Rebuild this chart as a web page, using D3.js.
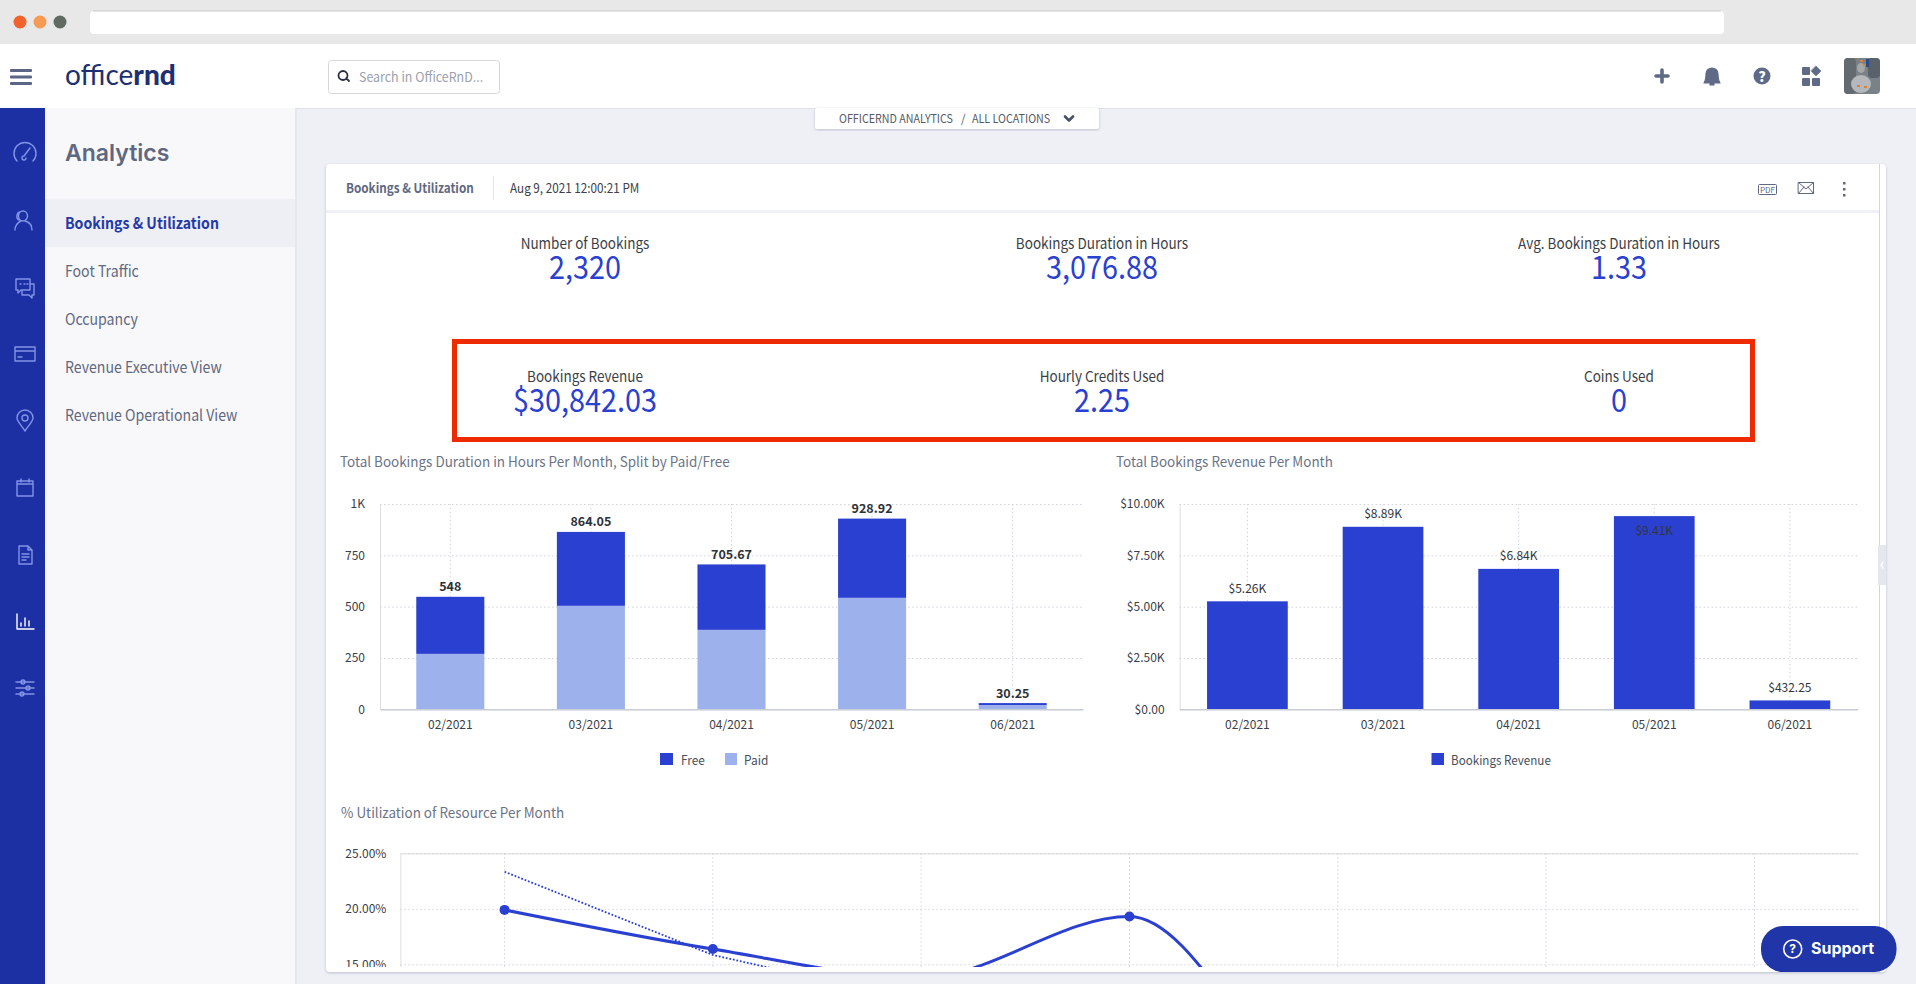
<!DOCTYPE html>
<html>
<head>
<meta charset="utf-8">
<title>Bookings & Utilization</title>
<script src="https://cdn.jsdelivr.net/npm/d3@7"></script>
<style>
  html, body { margin: 0; padding: 0; background: #eff0f6; overflow: hidden; }
  svg { display: block; }
  text { font-family: "Noto Sans CJK JP", "Noto Sans", sans-serif; }
</style>
</head>
<body>
<svg id="page" width="1916" height="984" viewBox="0 0 1916 984"></svg>
<script>
// Data
const months = ['02/2021', '03/2021', '04/2021', '05/2021', '06/2021'];
const freeHours = [278, 360.05, 318.67, 385.92, 9.25];
const paidHours = [270, 504, 387, 543, 21];
const totalLabels = ['548', '864.05', '705.67', '928.92', '30.25'];
const hoursTicks = [0, 250, 500, 750, 1000];
const hoursTickLabels = ['0', '250', '500', '750', '1K'];

const revenue = [5260, 8890, 6840, 9410, 432.25];
const revenueLabels = ['$5.26K', '$8.89K', '$6.84K', '$9.41K', '$432.25'];
const revenueTicks = [0, 2500, 5000, 7500, 10000];
const revenueTickLabels = ['$0.00', '$2.50K', '$5.00K', '$7.50K', '$10.00K'];

const resources = [1, 2, 3, 4, 5, 6, 7];
// The chart is cut off by the card below 15%, the low values are estimates
const utilization = [19.9, 16.38, 13.8, 19.3, 2.2, 1.5];
const utilizationTrend = [23.34, 15.84, 11.6];
const utilizationTicks = [15, 20, 25];
const utilizationTickLabels = ['15.00%', '20.00%', '25.00%'];

const kpiRows = [
  [['Number of Bookings', '2,320'], ['Bookings Duration in Hours', '3,076.88'], ['Avg. Bookings Duration in Hours', '1.33']],
  [['Bookings Revenue', '$30,842.03'], ['Hourly Credits Used', '2.25'], ['Coins Used', '0']]
];
const menuItems = ['Bookings & Utilization', 'Foot Traffic', 'Occupancy', 'Revenue Executive View', 'Revenue Operational View'];

const BLUE = '#2a40d0';
const LIGHT = '#9db2ec';
const NAVY = '#1c2fa3';
const SLATE = '#5f6880';

const svg = d3.select('#page');

// opts.squeeze narrows the glyphs, the dashboard font is a bit more condensed than ours
function addText(parent, x, y, str, size, fill, opts = {}) {
  const el = parent.append('text')
    .attr('x', x).attr('y', y - size * 0.07)
    .attr('dominant-baseline', 'central')
    .attr('text-anchor', opts.anchor || 'start')
    .attr('font-size', size)
    .attr('font-weight', opts.weight || 400)
    .attr('fill', fill)
    .text(str);
  if (opts.family) el.style('font-family', opts.family);
  if (opts.squeeze) {
    el.attr('textLength', el.node().getComputedTextLength() * opts.squeeze).attr('lengthAdjust', 'spacingAndGlyphs');
  }
  return el;
}

function addRect(parent, x, y, w, h, fill, r = 0) {
  return parent.append('rect').attr('x', x).attr('y', y).attr('width', w).attr('height', h).attr('rx', r).attr('fill', fill);
}

// Icon drawn with stroked paths, centred on cx, cy
function addIcon(parent, cx, cy, d, stroke, fill = 'none', width = 1.4) {
  return parent.append('path')
    .attr('transform', `translate(${cx},${cy})`)
    .attr('d', d)
    .attr('fill', fill)
    .attr('stroke', stroke)
    .attr('stroke-width', width)
    .attr('stroke-linecap', 'round')
    .attr('stroke-linejoin', 'round');
}

// Browser window chrome
function drawBrowser() {
  addRect(svg, 0, 0, 1916, 44, '#e8e8e8');
  [[20, '#f2622c'], [40, '#f89a52'], [60, '#5f6b60']].forEach(([x, c]) => {
    svg.append('circle').attr('cx', x).attr('cy', 22).attr('r', 6.5).attr('fill', c);
  });
  addRect(svg, 90, 11, 1634, 23, '#ffffff', 4);
  svg.append('line').attr('x1', 93).attr('x2', 1721).attr('y1', 11).attr('y2', 11).attr('stroke', '#c8c8c8');
}

function drawHeader() {
  addRect(svg, 0, 44, 1916, 64, '#ffffff');
  addRect(svg, 0, 108, 1916, 1, '#dcdfe6');
  [69, 75.5, 82].forEach(y => addRect(svg, 10, y, 22, 3, '#5a6684', 1));

  const logo = svg.append('text').attr('x', 65).attr('y', 74).attr('dominant-baseline', 'central')
    .attr('font-size', 28).attr('fill', '#1e2f72').style('font-family', 'Lato');
  logo.append('tspan').attr('font-weight', 400).text('office');
  logo.append('tspan').attr('font-weight', 900).text('rnd');

  addRect(svg, 328.5, 60.5, 171, 33, '#ffffff', 3).attr('stroke', '#d5d8e0');
  addIcon(svg, 344, 76, 'M-1,-5A4.5,4.5 0 1 1 -1,4A4.5,4.5 0 1 1 -1,-5M2.2,2.2L5,5', '#2b3040', 'none', 1.8);
  addText(svg, 359, 77, 'Search in OfficeRnD...', 13.5, '#9aa0ad', { squeeze: 0.92 });

  const c = '#5f6a86';
  addIcon(svg, 1662, 76, 'M-6,0H6M0,-6V6', c, 'none', 3.6);
  addIcon(svg, 1712, 76, 'M-8,7C-6,4 -6,2 -6,-2C-6,-6 -3,-8 0,-8C3,-8 6,-6 6,-2C6,2 6,4 8,7ZM-2,8H2V9H-2Z', c, c, 1.2);
  svg.append('circle').attr('cx', 1762).attr('cy', 76).attr('r', 8.5).attr('fill', c);
  addText(svg, 1762, 77, '?', 14, '#ffffff', { anchor: 'middle', weight: 900 });
  [[1802, 67], [1802, 78], [1812, 78]].forEach(([x, y]) => addRect(svg, x, y, 8, 8, c, 1));
  addIcon(svg, 1816, 71, 'M0,-5L5,0L0,5L-5,0Z', c, c, 0.5);

  // Avatar placeholder made of a few shaded blocks
  addRect(svg, 1844, 58, 36, 36, '#7b8287', 4);
  addRect(svg, 1844, 58, 12, 36, '#646b70', 4);
  addRect(svg, 1868, 58, 12, 20, '#59616a', 4);
  svg.append('ellipse').attr('cx', 1861).attr('cy', 68).attr('rx', 4).attr('ry', 5).attr('fill', '#a5a8a6');
  svg.append('ellipse').attr('cx', 1861).attr('cy', 84).attr('rx', 10).attr('ry', 9).attr('fill', '#b4b8bc');
  [[1857, 85], [1864, 86], [1860, 60], [1863, 64]].forEach(([x, y]) => addRect(svg, x, y, 3, 2, '#d9823a'));
  addRect(svg, 1866, 59, 3, 8, '#2c4a8a');
}

function drawSidebar() {
  addRect(svg, 0, 108, 45, 876, NAVY);
  addRect(svg, 45, 108, 250, 876, '#f8f8fb');
  addRect(svg, 295, 108, 2, 876, '#e6e7ec');

  const c = '#8194e6';
  const icons = [
    [153, 'M-8,8A11,11 0 1 1 8,8M-1,3L5,-5M-1,3A2,2 0 1 0 1,5'],
    [220, 'M-2,-9A4.5,5 0 0 1 -2,1A4.5,5 0 0 1 -2,-9M-10,10C-10,4 -6,2 -4,1M0,1C4,2 7,5 7,10M-5,-8C-9,-7 -9,-1 -6,0'],
    [287, 'M-9,-8H5V3H-4L-7,6V3H-9ZM5,-3H9V8H7V11L4,8H-3V4M-5,-3H-4M-1,-3H0M2,-3H3'],
    [354, 'M-10,-7H10V7H-10ZM-10,-3H10M-7,3H-3'],
    [421, 'M0,10C-4,4 -8,0 -8,-3A8,8 0 0 1 8,-3C8,0 4,4 0,10ZM0,-6A3,3 0 1 0 0,0A3,3 0 1 0 0,-6'],
    [488, 'M-8,-7H8V8H-8ZM-8,-4H8M-4,-9V-6M4,-9V-6'],
    [555, 'M-6,-9H3L7,-5V9H-6ZM3,-9V-5H7M-3,-1H4M-3,2H4M-3,5H1'],
    [621, 'M-8,-7V8H9M-4,5V2M0,5V-3M4,5V0', '#ffffff'],
    [688, 'M-9,-6H9M-9,0H9M-9,6H9M-2,-8A2,2 0 1 0 -2,-4A2,2 0 1 0 -2,-8M3,-2A2,2 0 1 0 3,2A2,2 0 1 0 3,-2M-3,4A2,2 0 1 0 -3,8A2,2 0 1 0 -3,4']
  ];
  icons.forEach(([y, d, stroke]) => addIcon(svg, 25, y, d, stroke || c));

  addText(svg, 65, 155, 'Analytics', 23, SLATE, { weight: 600, family: 'Inter' });
  addRect(svg, 45, 199, 250, 48, '#eeeff5');
  menuItems.forEach((item, i) => {
    addText(svg, 65, 223.5 + i * 48, item, 15.5, i === 0 ? '#2438a8' : SLATE, { weight: i === 0 ? 700 : 400, squeeze: 0.91 });
  });
}

function drawCard() {
  const defs = svg.append('defs');
  const shadow = defs.append('filter').attr('id', 'shadow').attr('x', '-5%').attr('y', '-5%').attr('width', '110%').attr('height', '110%');
  shadow.append('feDropShadow').attr('dx', 0).attr('dy', 1).attr('stdDeviation', 1.5).attr('flood-color', '#9a9db0').attr('flood-opacity', 0.6);
  defs.append('clipPath').attr('id', 'card-clip').append('rect').attr('x', 326).attr('y', 164).attr('width', 1553).attr('height', 803);

  addRect(svg, 326, 164, 1560, 808, '#ffffff', 4).attr('filter', 'url(#shadow)');
  addRect(svg, 1879, 164, 1, 808, '#d3d5dc');
  addRect(svg, 1878, 545, 8, 40, '#e6e7ec');
  addIcon(svg, 1882, 565, 'M1,-3L-1,0L1,3', '#ffffff');

  addRect(svg, 326, 210, 1553, 3, '#f0f1f6');
  addText(svg, 346, 188, 'Bookings & Utilization', 13, SLATE, { weight: 700, squeeze: 0.9 });
  addRect(svg, 493, 176, 1, 24, '#e3e5eb');
  addText(svg, 510, 188, 'Aug 9, 2021 12:00:21 PM', 13, '#3c4048', { squeeze: 0.9 });

  addRect(svg, 1758.5, 184.5, 18, 10, 'none', 1).attr('stroke', SLATE);
  addText(svg, 1767.5, 190, 'PDF', 8, SLATE, { anchor: 'middle' });
  addIcon(svg, 1806, 188, 'M-7.5,-5.5H7.5V5.5H-7.5ZM-7.5,-5.5L0,1L7.5,-5.5M-7.5,5.5L-2,-1M7.5,5.5L2,-1', SLATE, 'none', 1);
  [183, 189, 195].forEach(y => addRect(svg, 1843, y - 1, 2.5, 2.5, SLATE));

  // Tab hanging from the header
  addRect(svg, 815, 108, 284, 21, '#ffffff', 2).attr('filter', 'url(#shadow)');
  addText(svg, 839, 119, 'OFFICERND ANALYTICS', 11.5, '#555a66', { squeeze: 0.93 });
  addText(svg, 961, 119, '/', 11.5, '#555a66');
  addText(svg, 972, 119, 'ALL LOCATIONS', 11.5, '#555a66', { squeeze: 0.93 });
  addIcon(svg, 1069, 118.5, 'M-4,-2L0,2L4,-2', '#4a5064', 'none', 2.6);

  const kpiX = [585, 1102, 1619];
  kpiRows.forEach((row, r) => {
    const labelY = r === 0 ? 244 : 377;
    row.forEach(([label, value], i) => {
      addText(svg, kpiX[i], labelY, label, 15, '#3a3e46', { anchor: 'middle', squeeze: 0.9 });
      addText(svg, kpiX[i], labelY + 23.5, value, 32, BLUE, { anchor: 'middle', squeeze: 0.9 });
    });
  });

  svg.append('rect').attr('x', 454.5).attr('y', 341.5).attr('width', 1298).attr('height', 98)
    .attr('fill', 'none').attr('stroke', '#ee2a00').attr('stroke-width', 5);
}

// Shared frame for a bar chart: grid, axes, title
function drawFrame(cfg) {
  const g = svg.append('g').attr('clip-path', 'url(#card-clip)');
  addText(g, cfg.titleX, 462, cfg.title, 14, '#6b7387', { squeeze: 0.96 });

  const y = d3.scaleLinear().domain(cfg.domain).range([709.3, 504]);
  const x = d3.scaleBand().domain(months).range(cfg.xRange).paddingInner(cfg.pad).paddingOuter(cfg.pad / 2);

  const gridY = g.append('g').attr('transform', `translate(${cfg.xRange[0]},0)`)
    .call(d3.axisLeft(y).tickValues(cfg.ticks).tickSize(cfg.xRange[0] - cfg.xRange[1]).tickFormat(''));
  gridY.select('.domain').remove();
  gridY.selectAll('line').attr('stroke', '#cfd2d9').attr('stroke-dasharray', '1.5,2.5');

  const gridX = g.append('g').attr('transform', 'translate(0,709.3)')
    .call(d3.axisBottom(x).tickSize(-205.3).tickFormat(''));
  gridX.select('.domain').remove();
  gridX.selectAll('line').attr('stroke', '#cfd2d9').attr('stroke-dasharray', '1.5,2.5');

  return { g, x, y };
}

function finishAxes(g, x, y, cfg) {
  const left = g.append('g').attr('transform', `translate(${cfg.xRange[0]},0)`)
    .call(d3.axisLeft(y).tickValues(cfg.ticks).tickSize(0).tickPadding(15).tickFormat((d, i) => cfg.tickLabels[i]));
  left.select('.domain').attr('stroke', '#dcdee4');
  left.selectAll('text').attr('font-size', 12).attr('fill', '#3c4048').style('font-family', '"Noto Sans CJK JP"');

  const bottom = g.append('g').attr('transform', 'translate(0,709.3)')
    .call(d3.axisBottom(x).tickSize(0).tickPadding(11));
  bottom.select('.domain').attr('stroke', '#c8ccd6').attr('stroke-width', 1.4);
  bottom.selectAll('text').attr('font-size', 12).attr('fill', '#3c4048').style('font-family', '"Noto Sans CJK JP"');
}

function drawHoursChart() {
  const cfg = {
    title: 'Total Bookings Duration in Hours Per Month, Split by Paid/Free',
    titleX: 340, domain: [0, 1000], xRange: [380, 1083], pad: 0.516,
    ticks: hoursTicks, tickLabels: hoursTickLabels
  };
  const { g, x, y } = drawFrame(cfg);

  const rows = months.map((m, i) => ({ month: m, paid: paidHours[i], free: freeHours[i] }));
  const stacked = d3.stack().keys(['paid', 'free'])(rows);
  const colors = { paid: LIGHT, free: BLUE };

  g.selectAll('.layer').data(stacked).join('g').attr('class', 'layer').attr('fill', d => colors[d.key])
    .selectAll('rect').data(d => d).join('rect')
    .attr('x', d => x(d.data.month))
    .attr('width', x.bandwidth())
    .attr('y', d => y(d[1]))
    .attr('height', d => y(d[0]) - y(d[1]));

  finishAxes(g, x, y, cfg);

  g.selectAll('.total').data(rows).join('text').attr('class', 'total')
    .attr('x', d => x(d.month) + x.bandwidth() / 2)
    .attr('y', d => y(d.paid + d.free) - 11)
    .attr('dominant-baseline', 'central').attr('text-anchor', 'middle')
    .attr('font-size', 12.5).attr('font-weight', 700).attr('fill', '#2e3138')
    .text((d, i) => totalLabels[i]);

  addRect(g, 660, 753, 13, 12, BLUE);
  addText(g, 681, 760, 'Free', 12.5, '#4a4f5c', { squeeze: 0.95 });
  addRect(g, 725, 753, 12, 12, LIGHT);
  addText(g, 744, 760, 'Paid', 12.5, '#4a4f5c', { squeeze: 0.95 });
}

function drawRevenueChart() {
  const cfg = {
    title: 'Total Bookings Revenue Per Month',
    titleX: 1116, domain: [0, 10000], xRange: [1179.6, 1857.7], pad: 0.405,
    ticks: revenueTicks, tickLabels: revenueTickLabels
  };
  const { g, x, y } = drawFrame(cfg);

  g.selectAll('.bar').data(revenue).join('rect').attr('class', 'bar')
    .attr('x', (d, i) => x(months[i]))
    .attr('width', x.bandwidth())
    .attr('y', d => y(d))
    .attr('height', d => y(0) - y(d))
    .attr('fill', BLUE);

  finishAxes(g, x, y, cfg);

  // The tallest bar has no headroom so its label sits inside, as in the dashboard
  g.selectAll('.value').data(revenue).join('text').attr('class', 'value')
    .attr('x', (d, i) => x(months[i]) + x.bandwidth() / 2)
    .attr('y', d => (d > 9000 ? y(d) + 13 : y(d) - 14))
    .attr('dominant-baseline', 'central').attr('text-anchor', 'middle')
    .attr('font-size', 12).attr('fill', '#33363e')
    .text((d, i) => revenueLabels[i]);

  addRect(g, 1431.5, 753, 12.5, 12, BLUE);
  addText(g, 1451, 760, 'Bookings Revenue', 12.5, '#4a4f5c', { squeeze: 0.93 });
}

function drawUtilizationChart() {
  const g = svg.append('g').attr('clip-path', 'url(#card-clip)');
  addText(g, 341, 813, '% Utilization of Resource Per Month', 14, '#6b7387', { squeeze: 0.96 });

  const x = d3.scaleBand().domain(resources).range([400.4, 1858.5]);
  const y = d3.scaleLinear().domain([0, 25]).range([1130.8, 853.3]);
  const cx = i => x(resources[i]) + x.bandwidth() / 2;

  const gridY = g.append('g').attr('transform', 'translate(400.4,0)')
    .call(d3.axisLeft(y).tickValues(utilizationTicks).tickSize(-1458).tickPadding(14).tickFormat((d, i) => utilizationTickLabels[i]));
  gridY.select('.domain').attr('stroke', '#dcdee4');
  gridY.selectAll('line').attr('stroke', '#cfd2d9').attr('stroke-dasharray', '1.5,2.5');
  gridY.selectAll('text').attr('font-size', 12).attr('fill', '#3c4048').style('font-family', '"Noto Sans CJK JP"');

  const gridX = g.append('g').attr('transform', 'translate(0,1130.8)')
    .call(d3.axisBottom(x).tickSize(-277.5).tickFormat(''));
  gridX.select('.domain').remove();
  gridX.selectAll('line').attr('stroke', '#cfd2d9').attr('stroke-dasharray', '1.5,2.5');

  const line = d3.line().x((d, i) => cx(i)).y(d => y(d));

  g.append('path').datum(utilizationTrend)
    .attr('d', line.curve(d3.curveLinear))
    .attr('fill', 'none').attr('stroke', BLUE).attr('stroke-width', 1.8).attr('stroke-dasharray', '1.8,1.8');

  g.append('path').datum(utilization)
    .attr('d', line.curve(d3.curveMonotoneX))
    .attr('fill', 'none').attr('stroke', BLUE).attr('stroke-width', 3);

  g.selectAll('.point').data(utilization).join('circle').attr('class', 'point')
    .attr('cx', (d, i) => cx(i)).attr('cy', d => y(d)).attr('r', 5).attr('fill', BLUE);
}

function drawSupport() {
  addRect(svg, 1761, 926, 135.5, 46, '#2035a8', 22);
  svg.append('circle').attr('cx', 1792.7).attr('cy', 949).attr('r', 9).attr('fill', 'none').attr('stroke', '#fff').attr('stroke-width', 1.6);
  addText(svg, 1792.7, 949, '?', 12, '#ffffff', { anchor: 'middle', weight: 700, family: 'Inter' });
  addText(svg, 1811, 949, 'Support', 16, '#ffffff', { weight: 700, family: 'Inter' });
}

drawBrowser();
drawHeader();
drawSidebar();
drawCard();
drawHoursChart();
drawRevenueChart();
drawUtilizationChart();
drawSupport();
</script>
</body>
</html>
